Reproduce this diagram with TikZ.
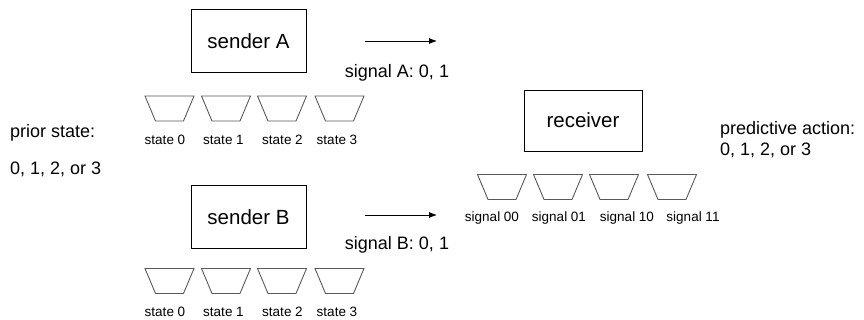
\documentclass[tikz,border=0pt]{standalone}
\usepackage{fontspec}
\setmainfont{Liberation Sans}
\usetikzlibrary{arrows.meta}
\begin{document}
\begin{tikzpicture}[x=1pt,y=-1pt,
  agent/.style={draw=black,line width=0.9pt,minimum width=115pt,minimum height=63pt,inner sep=0pt,font=\fontsize{20.5}{22}\selectfont},
  txt/.style={font=\fontsize{18}{20}\selectfont,inner sep=0pt},
  small/.style={font=\fontsize{13.5}{15}\selectfont,inner sep=0pt},
  msg/.style={line width=0.8pt,-{Latex[length=8pt,width=6pt]}},
  bucket/.pic={\draw[draw=black!65,line width=0.9pt] (-24.5,-12.5) -- (24.5,-12.5) -- (14,12.5) -- (-14,12.5) -- cycle;}]
\useasboundingbox (0,0) rectangle (864,320);
% senders and receiver
\node[agent] (sA) at (248.5,41) {sender A};
\node[agent] (sB) at (248.5,217) {sender B};
\node[agent,minimum width=118pt,minimum height=61pt] (rc) at (583,120.5) {receiver};
% arrows
\coordinate (a1) at (365,41); \coordinate (a2) at (437,41);
\coordinate (b1) at (365,215); \coordinate (b2) at (437,215);
\draw[msg] (a1) -- (a2);
\draw[msg] (b1) -- (b2);
\node[txt] (tA) at (397,73) {signal A: 0, 1};
\node[txt] (tB) at (397,245) {signal B: 0, 1};
% state buckets A
\foreach \i/\x/\lx in {0/169.5/165,1/226/223.5,2/282/282.5,3/339.5/337}{
  \pic at (\x,108.5) {bucket};
  \node[small] (la\i) at (\lx,140) {state \i};
}
% state buckets B
\foreach \i/\x/\lx in {0/169.5/165,1/226/223.5,2/282/282.5,3/339.5/337}{
  \pic at (\x,281) {bucket};
  \node[small] (lb\i) at (\lx,312) {state \i};
}
% signal buckets
\foreach \s/\x/\lx in {00/502/492,01/558/559,10/614/627,11/672/693}{
  \pic at (\x,187) {bucket};
  \node[small] (ls\s) at (\lx,218) {signal \s};
}
% side texts
\node[txt,anchor=west] (p1) at (10,133) {prior state:};
\node[txt,anchor=west] (p2) at (10,169) {0, 1, 2, or 3};
\node[txt,anchor=west] (q1) at (720,130) {predictive action:};
\node[txt,anchor=west] (q2) at (720,150) {0, 1, 2, or 3};
\end{tikzpicture}
\end{document}
